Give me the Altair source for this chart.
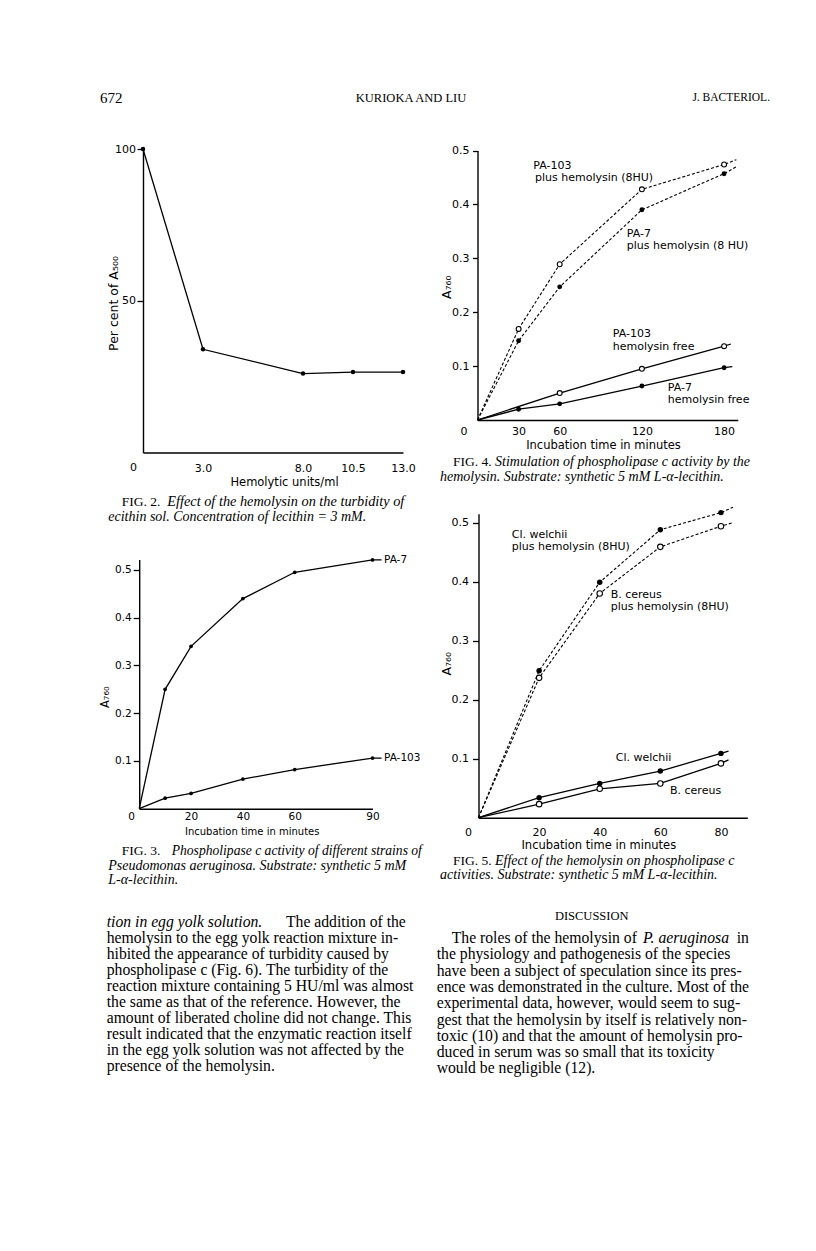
import altair as alt
import pandas as pd

SANS = "DejaVu Sans"
SERIF = "Liberation Serif"
W, H = 800, 1235
M = 8  # page margin

# ---------------- data ----------------
# Fig. 2
fig2_units = [0.0, 3.0, 8.0, 10.5, 13.0]
fig2_percent = [100, 34, 26, 26.5, 26.5]

# Fig. 3
fig3_time = [0, 10, 20, 40, 60, 90]
fig3_pa7 = [0, 0.25, 0.34, 0.44, 0.495, 0.521]
fig3_pa103 = [0, 0.022, 0.032, 0.062, 0.082, 0.106]
fig3_leader_time = 93.5

# Fig. 4
fig4_time = [0, 30, 60, 120, 180]
fig4_pa103_plus = [0, 0.169, 0.289, 0.428, 0.474]
fig4_pa7_plus = [0, 0.147, 0.247, 0.390, 0.457]
fig4_pa103_free_time = [0, 60, 120, 180]
fig4_pa103_free = [0, 0.050, 0.095, 0.137]
fig4_pa7_free = [0, 0.020, 0.030, 0.063, 0.097]
fig4_tail_time = [189, 189, 185, 186]
fig4_tail_value = [0.483, 0.470, 0.141, 0.099]

# Fig. 5
fig5_time = [0, 20, 40, 60, 80]
fig5_welchii_plus = [0, 0.249, 0.399, 0.488, 0.517]
fig5_cereus_plus = [0, 0.237, 0.380, 0.459, 0.494]
fig5_welchii_free = [0, 0.034, 0.058, 0.079, 0.109]
fig5_cereus_free = [0, 0.023, 0.049, 0.058, 0.092]
fig5_tail_time = [84, 84, 82.5, 82.5]
fig5_tail_value = [0.526, 0.500, 0.113, 0.098]

# ---------------- text ----------------
header_left = "672"
header_mid = "KURIOKA AND LIU"
header_right = "J. BACTERIOL."

left_first_italic = "tion in egg yolk solution."
left_first_roman = "The addition of the"
left_lines = [
    "hemolysin to the egg yolk reaction mixture in-",
    "hibited the appearance of turbidity caused by",
    "phospholipase c (Fig. 6). The turbidity of the",
    "reaction mixture containing 5 HU/ml was almost",
    "the same as that of the reference. However, the",
    "amount of liberated choline did not change. This",
    "result indicated that the enzymatic reaction itself",
    "in the egg yolk solution was not affected by the",
    "presence of the hemolysin.",
]
disc_heading = "DISCUSSION"
right_first = ["The roles of the hemolysin of", "P. aeruginosa", "in"]
right_lines = [
    "the physiology and pathogenesis of the species",
    "have been a subject of speculation since its pres-",
    "ence was demonstrated in the culture. Most of the",
    "experimental data, however, would seem to sug-",
    "gest that the hemolysin by itself is relatively non-",
    "toxic (10) and that the amount of hemolysin pro-",
    "duced in serum was so small that its toxicity",
    "would be negligible (12).",
]


# ---------------- helpers ----------------
def build(series):
    rows = []
    for name, xs, ys, tail, dashed, filled in series:
        for i, (x, y) in enumerate(zip(xs, ys)):
            rows.append(dict(s=name, x=x, y=y, o=i, mk=not (x == 0 and y == 0),
                             dash=dashed, filled=filled))
        if tail is not None:
            rows.append(dict(s=name, x=tail[0], y=tail[1], o=len(xs), mk=False,
                             dash=dashed, filled=filled))
    return pd.DataFrame(rows)


def T(text, x, y, size=11, font=SANS, style="normal", align="left", weight="normal"):
    return alt.Chart(alt.Data(values=[{}])).mark_text(
        text=text, align=align, baseline="middle", font=font, fontSize=size,
        fontStyle=style, fontWeight=weight, color="black"
    ).encode(x=alt.value(x - M), y=alt.value(y - M))


def para(lines, x, y0, dy, size, font=SERIF, style="normal"):
    df = pd.DataFrame({"t": lines, "i": list(range(len(lines)))})
    return alt.Chart(df).transform_calculate(
        py=f"{y0 - M} + {dy} * datum.i"
    ).mark_text(align="left", baseline="middle", font=font, fontSize=size,
                fontStyle=style, color="black").encode(
        x=alt.value(x - M),
        y=alt.Y("py:Q", scale=None, axis=None),
        text="t:N",
    )


def panel(df, xdom, xr, ydom, yr, xvals, xfmt, yvals, yfmt, xtitle, xtpos, ytitle, ytpos,
          xlabpad, ytick, ylabpad, pt, zero_dx, zero_dy, tsize=11, ytsize=12.5, lsize=11):
    x_axis_y = yr[0]
    y_axis_x = xr[0]
    xaxis = alt.Axis(
        orient="bottom", offset=(x_axis_y - M) - H, values=xvals, format=xfmt,
        title=xtitle, titleX=xtpos[0] - M, titleY=xtpos[1] - x_axis_y,
        titleAlign="center", titleBaseline="middle", titleFont=SANS,
        titleFontSize=tsize, titleFontWeight="normal", titleColor="black",
        labelFont=SANS, labelFontSize=lsize, labelColor="black", labelBaseline="middle",
        labelPadding=xlabpad, labelFlush=False, labelOverlap=False, ticks=False,
        tickSize=0, domainColor="black", domainWidth=1.4, grid=False,
    )
    yaxis = alt.Axis(
        orient="left", offset=-(y_axis_x - M), values=yvals, format=yfmt,
        title=ytitle, titleX=ytpos[0] - y_axis_x, titleY=ytpos[1] - M,
        titleAlign="center", titleBaseline="middle", titleFont=SANS,
        titleFontSize=ytsize, titleFontWeight="normal", titleColor="black",
        labelFont=SANS, labelFontSize=lsize, labelColor="black",
        labelPadding=ylabpad, labelFlush=False, labelOverlap=False,
        tickSize=ytick, tickColor="black", tickWidth=1.3,
        domainColor="black", domainWidth=1.4, grid=False,
    )
    X = alt.X("x:Q", scale=alt.Scale(domain=xdom, range=[xr[0] - M, xr[1] - M],
                                      nice=False, zero=False), axis=xaxis)
    Y = alt.Y("y:Q", scale=alt.Scale(domain=ydom, range=[yr[0] - M, yr[1] - M],
                                      nice=False, zero=False), axis=yaxis)
    base = alt.Chart(df)
    solid = base.transform_filter("!datum.dash").mark_line(
        color="black", strokeWidth=1.3).encode(x=X, y=Y, detail="s:N", order="o:Q")
    dashed = base.transform_filter("datum.dash").mark_line(
        color="black", strokeWidth=1.1, strokeDash=[3, 2]).encode(
        x=X, y=Y, detail="s:N", order="o:Q")
    filled = base.transform_filter("datum.mk && datum.filled").mark_circle(
        color="black", opacity=1, size=pt).encode(x=X, y=Y)
    opened = base.transform_filter("datum.mk && !datum.filled").mark_circle(
        fill="white", stroke="black", strokeWidth=1.1, opacity=1, size=pt).encode(x=X, y=Y)
    zero = alt.Chart(alt.Data(values=[{"x": 0, "y": 0}])).mark_text(
        text="0", dx=zero_dx, dy=zero_dy, font=SANS, fontSize=lsize, color="black",
        align="center", baseline="middle").encode(x=X, y=Y)
    return alt.layer(solid, dashed, filled, opened, zero)


# ---------------- figures ----------------
df2 = build([("fig2", fig2_units, fig2_percent, None, False, True)])
fig2 = panel(df2, [0, 13], [143, 403], [0, 100], [452.5, 149],
             [3, 8, 10.5, 13], ".1f", [50, 100], "d",
             "Hemolytic units/ml", (284, 482), "Per cent of A₅₀₀", (113, 303),
             15.5, 6, 1.5, 20, -9.5, 15.5, tsize=11.5)

df4 = build([
    ("PA-103 plus", fig4_time, fig4_pa103_plus, (fig4_tail_time[0], fig4_tail_value[0]), True, False),
    ("PA-7 plus", fig4_time, fig4_pa7_plus, (fig4_tail_time[1], fig4_tail_value[1]), True, True),
    ("PA-103 free", fig4_pa103_free_time, fig4_pa103_free, (fig4_tail_time[2], fig4_tail_value[2]), False, False),
    ("PA-7 free", fig4_time, fig4_pa7_free, (fig4_tail_time[3], fig4_tail_value[3]), False, True),
])
fig4 = panel(df4, [0, 190], [477.5, 737.8], [0, 0.5], [420, 150.5],
             [30, 60, 120, 180], "d", [0.1, 0.2, 0.3, 0.4, 0.5], ".1f",
             "Incubation time in minutes", (603, 445), "A₇₆₀", (446.7, 286.7),
             11.7, 5, 3.5, 24, -13.5, 11.7, tsize=11.5)

df3 = build([
    ("PA-7", fig3_time, fig3_pa7, (fig3_leader_time, fig3_pa7[-1]), False, True),
    ("PA-103", fig3_time, fig3_pa103, (fig3_leader_time, fig3_pa103[-1]), False, True),
])
fig3 = panel(df3, [0, 90], [139.2, 372.5], [0, 0.522], [808.7, 559.4],
             [20, 40, 60, 90], "d", [0.1, 0.2, 0.3, 0.4, 0.5], ".1f",
             "Incubation time in minutes", (251.7, 831), "A₇₆₀", (105, 696.7),
             8, 6, 2, 14, -7.5, 8, tsize=10, ytsize=11.5, lsize=10.5)

df5 = build([
    ("Cl. welchii plus", fig5_time, fig5_welchii_plus, (fig5_tail_time[0], fig5_tail_value[0]), True, True),
    ("B. cereus plus", fig5_time, fig5_cereus_plus, (fig5_tail_time[1], fig5_tail_value[1]), True, False),
    ("Cl. welchii free", fig5_time, fig5_welchii_free, (fig5_tail_time[2], fig5_tail_value[2]), False, True),
    ("B. cereus free", fig5_time, fig5_cereus_free, (fig5_tail_time[3], fig5_tail_value[3]), False, False),
])
fig5 = panel(df5, [0, 88.7], [478.5, 747.3], [0, 0.515], [817.7, 513.8],
             [20, 40, 60, 80], "d", [0.1, 0.2, 0.3, 0.4, 0.5], ".1f",
             "Incubation time in minutes", (598.3, 845), "A₇₆₀", (446.7, 663.3),
             15.2, 6, 4, 30, -10, 15.2, tsize=11.5)

# ---------------- annotations ----------------
notes = [
    T("PA-103", 533.3, 166), T("plus hemolysin (8HU)", 535, 177.7),
    T("PA-7", 626.7, 234), T("plus hemolysin (8 HU)", 626.7, 246),
    T("PA-103", 612.7, 334), T("hemolysin free", 612.7, 347.3),
    T("PA-7", 667.7, 388.3), T("hemolysin free", 667.7, 400),
    T("PA-7", 384, 560, size=10.5), T("PA-103", 384, 758, size=10.5),
    T("Cl. welchii", 511.7, 535), T("plus hemolysin (8HU)", 511.7, 547.3),
    T("B. cereus", 610.7, 595), T("plus hemolysin (8HU)", 610.7, 607.3),
    T("Cl. welchii", 615.7, 757.7), T("B. cereus", 670, 790.7),
]

cap = 14
captions = [
    T("FIG. 2.", 121.7, 502, size=13.5, font=SERIF),
    T("Effect of the hemolysin on the turbidity of", 167.3, 502, size=14.3, font=SERIF, style="italic"),
    T("ecithin sol. Concentration of lecithin = 3 mM.", 108.3, 517, size=cap, font=SERIF, style="italic"),
    T("FIG. 4.", 453, 462, size=13.5, font=SERIF),
    T("Stimulation of phospholipase c activity by the", 495, 462, size=cap, font=SERIF, style="italic"),
    T("hemolysin. Substrate: synthetic 5 mM L-α-lecithin.", 440, 477, size=cap, font=SERIF, style="italic"),
    T("FIG. 3.", 121.7, 851, size=13.5, font=SERIF),
    T("Phospholipase c activity of different strains of", 171.7, 851, size=13.6, font=SERIF, style="italic"),
    T("Pseudomonas aeruginosa. Substrate: synthetic 5 mM", 108.3, 866, size=cap, font=SERIF, style="italic"),
    T("L-α-lecithin.", 108.3, 880, size=cap, font=SERIF, style="italic"),
    T("FIG. 5.", 453, 861, size=13.5, font=SERIF),
    T("Effect of the hemolysin on phospholipase c", 495, 861, size=cap, font=SERIF, style="italic"),
    T("activities. Substrate: synthetic 5 mM L-α-lecithin.", 440, 875, size=cap, font=SERIF, style="italic"),
]

body = 15.7
page_text = [
    T(header_left, 100, 98, size=15, font=SERIF),
    T(header_mid, 411, 98, size=12.5, font=SERIF, align="center"),
    T(header_right, 770, 98, size=11.5, font=SERIF, align="right"),
    T(left_first_italic, 106.7, 922, size=body, font=SERIF, style="italic"),
    T(left_first_roman, 286, 922, size=body, font=SERIF),
    para(left_lines, 106.7, 938, 15.95, body),
    T(disc_heading, 591.7, 916, size=12.5, font=SERIF, align="center"),
    T(right_first[0], 451.7, 938, size=body, font=SERIF),
    T(right_first[1], 643, 938, size=body, font=SERIF, style="italic"),
    T(right_first[2], 736.7, 938, size=body, font=SERIF),
    para(right_lines, 436.7, 954.3, 16.3, body),
]

chart = alt.layer(fig2, fig4, fig3, fig5, *notes, *captions, *page_text).resolve_scale(
    x="independent", y="independent"
).properties(
    width=W, height=H, autosize=alt.AutoSizeParams(type="none"), padding=0,
    background="white",
).configure_view(strokeWidth=0)

chart.save("out.html", embed_options={"renderer": "svg", "actions": False})
